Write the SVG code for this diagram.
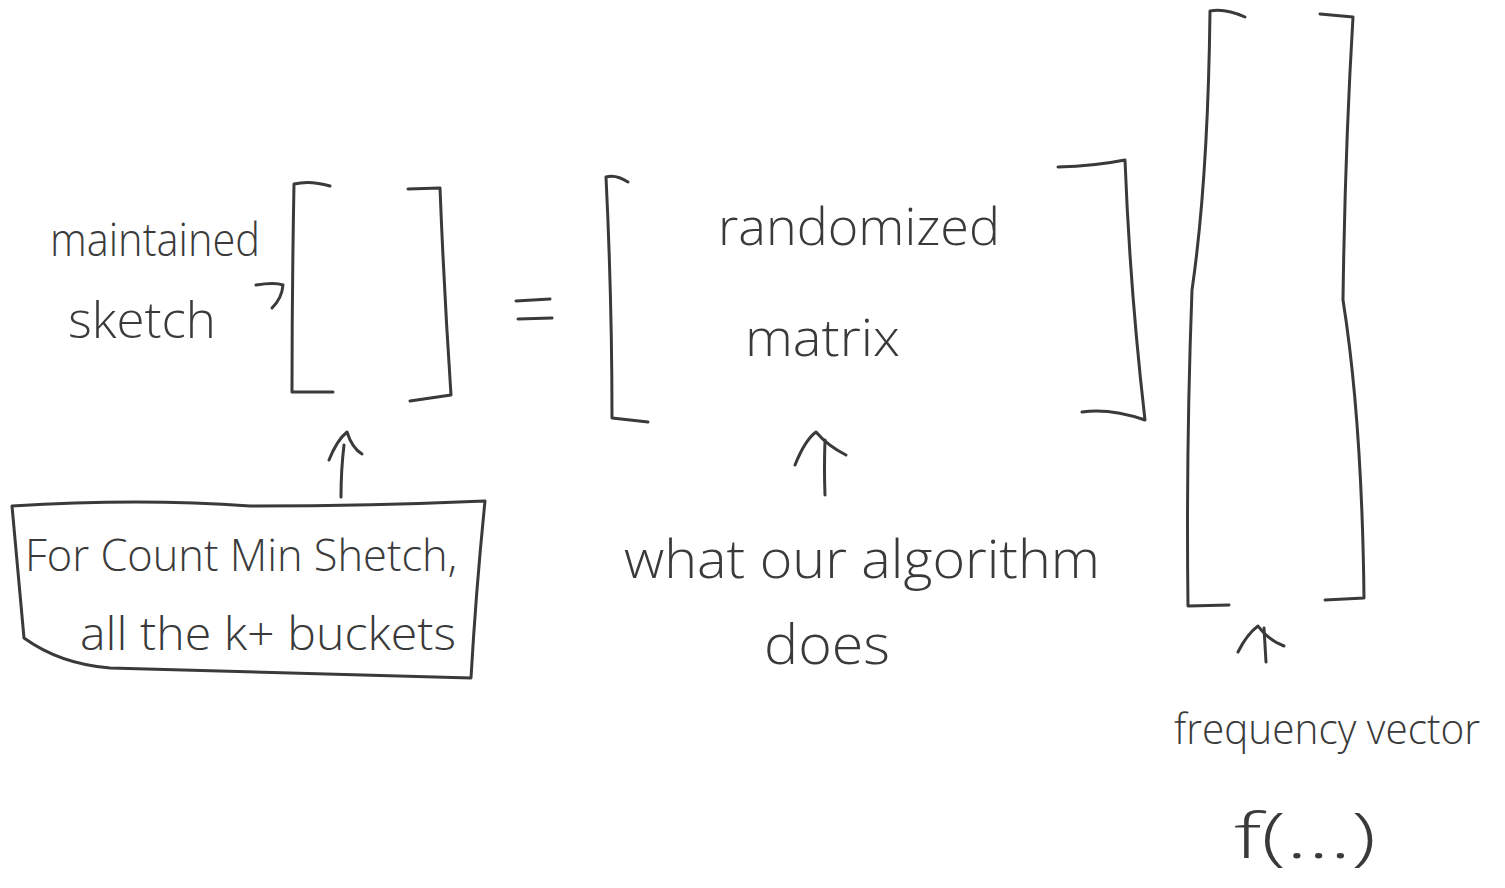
<svg xmlns="http://www.w3.org/2000/svg" width="1505" height="888" viewBox="0 0 1505 888">
  <style>
    .ink { fill: none; stroke: #3a3a3a; stroke-width: 3; stroke-linecap: round; stroke-linejoin: round; }
    .hand { font-family: "Open Sans", "Liberation Sans", sans-serif; font-weight: 300; fill: #3a3a3a; }
  </style>
  <rect width="1505" height="888" fill="#ffffff"/>

  <!-- maintained sketch: small bracket pair -->
  <g id="sketch">
    <path class="ink" d="M330,186 Q310,180 294,184 Q292,290 292,392 L333,392"/>
    <path class="ink" d="M408,189 L440,188 Q444,290 451,395 L410,401"/>
    <text class="hand" x="50" y="256" font-size="46" textLength="210" lengthAdjust="spacingAndGlyphs">maintained</text>
    <text class="hand" x="68" y="338" font-size="50" textLength="148" lengthAdjust="spacingAndGlyphs">sketch</text>
  </g>

  <!-- equals sign -->
  <g id="equals">
    <path class="ink" d="M516,301 L550,299"/>
    <path class="ink" d="M518,319 L552,318"/>
  </g>

  <!-- randomized matrix: wide bracket pair -->
  <g id="matrix">
    <path class="ink" d="M628,182 Q616,174 606,177 Q612,300 612,418 L648,422"/>
    <path class="ink" d="M1058,167 Q1095,166 1125,160 Q1130,290 1145,420 Q1110,408 1082,412"/>
    <text class="hand" x="718" y="245" font-size="52" textLength="282" lengthAdjust="spacingAndGlyphs">randomized</text>
    <text class="hand" x="745" y="356" font-size="52" textLength="155" lengthAdjust="spacingAndGlyphs">matrix</text>
  </g>

  <!-- frequency vector: tall bracket pair -->
  <g id="vector">
    <path class="ink" d="M1245,17 Q1225,8 1210,11 Q1208,180 1192,290 Q1186,450 1188,606 L1229,605"/>
    <path class="ink" d="M1320,14 L1353,17 Q1345,150 1343,300 Q1362,420 1364,598 L1325,600"/>
  </g>

  <!-- Count-Min note box -->
  <g id="note">
    <path class="ink" d="M12,506 Q140,498 250,506 Q370,506 485,501 Q476,590 471,678 Q300,674 110,668 Q60,664 24,638 Q18,570 12,506 Z"/>
    <text class="hand" x="25" y="571" font-size="44" textLength="432" lengthAdjust="spacingAndGlyphs">For Count Min  Shetch,</text>
    <text class="hand" x="80" y="650" font-size="46" textLength="376" lengthAdjust="spacingAndGlyphs">all the k+ buckets</text>
  </g>

  <!-- algorithm note -->
  <g id="algorithm">
    <text class="hand" x="624" y="578" font-size="54" textLength="476" lengthAdjust="spacingAndGlyphs">what  our algorithm</text>
    <text class="hand" x="764" y="664" font-size="56" textLength="126" lengthAdjust="spacingAndGlyphs">does</text>
  </g>

  <!-- frequency vector label -->
  <g id="frequency">
    <text class="hand" x="1174" y="744" font-size="42" textLength="306" lengthAdjust="spacingAndGlyphs">frequency vector</text>
    <text class="hand" x="1234" y="858" font-size="62" textLength="142" lengthAdjust="spacingAndGlyphs">f(...)</text>
  </g>

  <!-- connectors: pointer arrows -->
  <g id="connectors">
    <path class="ink" d="M256,285 Q275,282 283,285 Q282,298 272,308"/>
    <path class="ink" d="M341,497 Q341,470 344,445"/>
    <path class="ink" d="M329,460 Q337,440 347,432 Q352,448 362,454"/>
    <path class="ink" d="M825,495 Q824,470 825,440"/>
    <path class="ink" d="M795,465 Q805,440 816,432 Q828,446 846,455"/>
    <path class="ink" d="M1266,662 Q1265,645 1264,628"/>
    <path class="ink" d="M1238,652 Q1247,634 1258,626 Q1268,640 1284,646"/>
  </g>
</svg>
